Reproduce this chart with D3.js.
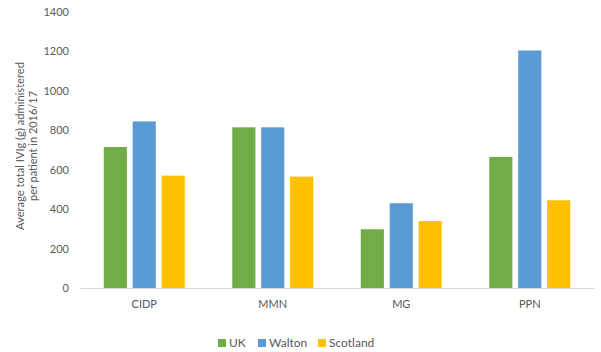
<!DOCTYPE html>
<html>
<head>
<meta charset="utf-8">
<script src="https://cdn.jsdelivr.net/npm/d3@7/dist/d3.min.js"></script>
<style>
  body { margin: 0; background: #fff; }
  text { font-family: Lato, "Open Sans", "Liberation Sans", sans-serif; fill: #595959; }
</style>
</head>
<body>
<svg id="chart" width="601" height="352"></svg>
<script>
const categories = ["CIDP", "MMN", "MG", "PPN"];
const seriesNames = ["UK", "Walton", "Scotland"];
const ukValues = [715, 815, 298, 665];
const waltonValues = [845, 815, 430, 1205];
const scotlandValues = [570, 565, 340, 445];
const yTicks = [0, 200, 400, 600, 800, 1000, 1200, 1400];
const colors = ["#70AD47", "#5B9BD5", "#FFC000"];

const seriesValues = [ukValues, waltonValues, scotlandValues];
const data = categories.map((c, i) => ({
  cat: c,
  vals: seriesNames.map((s, j) => ({ s, v: seriesValues[j][i], j }))
}));

const FONT = "Lato, 'Open Sans', 'Liberation Sans', sans-serif";
const svg = d3.select("#chart");
const plotLeft = 80, plotRight = 594, plotTop = 12, plotBottom = 288;

const x0 = d3.scaleBand().domain(categories).range([plotLeft, plotRight])
  .paddingInner(0.37).paddingOuter(0.185);
const x1 = d3.scaleBand().domain(seriesNames).range([0, x0.bandwidth()])
  .paddingInner(0.2);
const y = d3.scaleLinear().domain([0, 1400]).range([plotBottom, plotTop]);

// y tick labels
const yAxis = d3.axisLeft(y).tickValues(yTicks).tickFormat(d3.format("d")).tickSize(0).tickPadding(0);
const gy = svg.append("g").attr("transform", `translate(${plotLeft - 11},0)`).call(yAxis);
gy.select(".domain").remove();
gy.selectAll("text").attr("font-size", 11).style("font-family", FONT).attr("fill", "#595959");

// bars
const groups = svg.append("g").selectAll("g").data(data).join("g")
  .attr("transform", d => `translate(${x0(d.cat)},0)`);
groups.selectAll("rect").data(d => d.vals).join("rect")
  .attr("x", d => x1(d.s))
  .attr("width", x1.bandwidth())
  .attr("y", d => y(d.v))
  .attr("height", d => y(0) - y(d.v))
  .attr("fill", d => colors[d.j]);

// x axis
const xAxis = d3.axisBottom(x0).tickSize(0).tickPadding(12);
const gx = svg.append("g").attr("transform", `translate(0,${plotBottom})`).call(xAxis);
gx.select(".domain").attr("stroke", "#D9D9D9").attr("stroke-width", 1.2);
gx.selectAll("text").attr("font-size", 11).style("font-family", FONT).attr("fill", "#595959");

// y axis title
const title = svg.append("text")
  .attr("transform", "translate(26,146) rotate(-90)")
  .attr("text-anchor", "middle")
  .attr("font-size", 12);
title.append("tspan").attr("x", 0).attr("dy", "-0.2em")
  .attr("textLength", 168).attr("lengthAdjust", "spacingAndGlyphs")
  .text("Average total IVIg (g) administered");
title.append("tspan").attr("x", 0).attr("dy", "1.12em")
  .attr("textLength", 110).attr("lengthAdjust", "spacingAndGlyphs")
  .text("per patient in 2016/17");

// legend
const legendX = [218, 258, 318];
const leg = svg.append("g").selectAll("g").data(seriesNames).join("g")
  .attr("transform", (d, i) => `translate(${legendX[i]},343)`);
leg.append("rect").attr("x", 0).attr("y", -4).attr("width", 8).attr("height", 8)
  .attr("fill", (d, i) => colors[i]);
leg.append("text").attr("x", 11).attr("y", 0).attr("dy", "0.35em")
  .attr("font-size", 12).text(d => d);
</script>
</body>
</html>
